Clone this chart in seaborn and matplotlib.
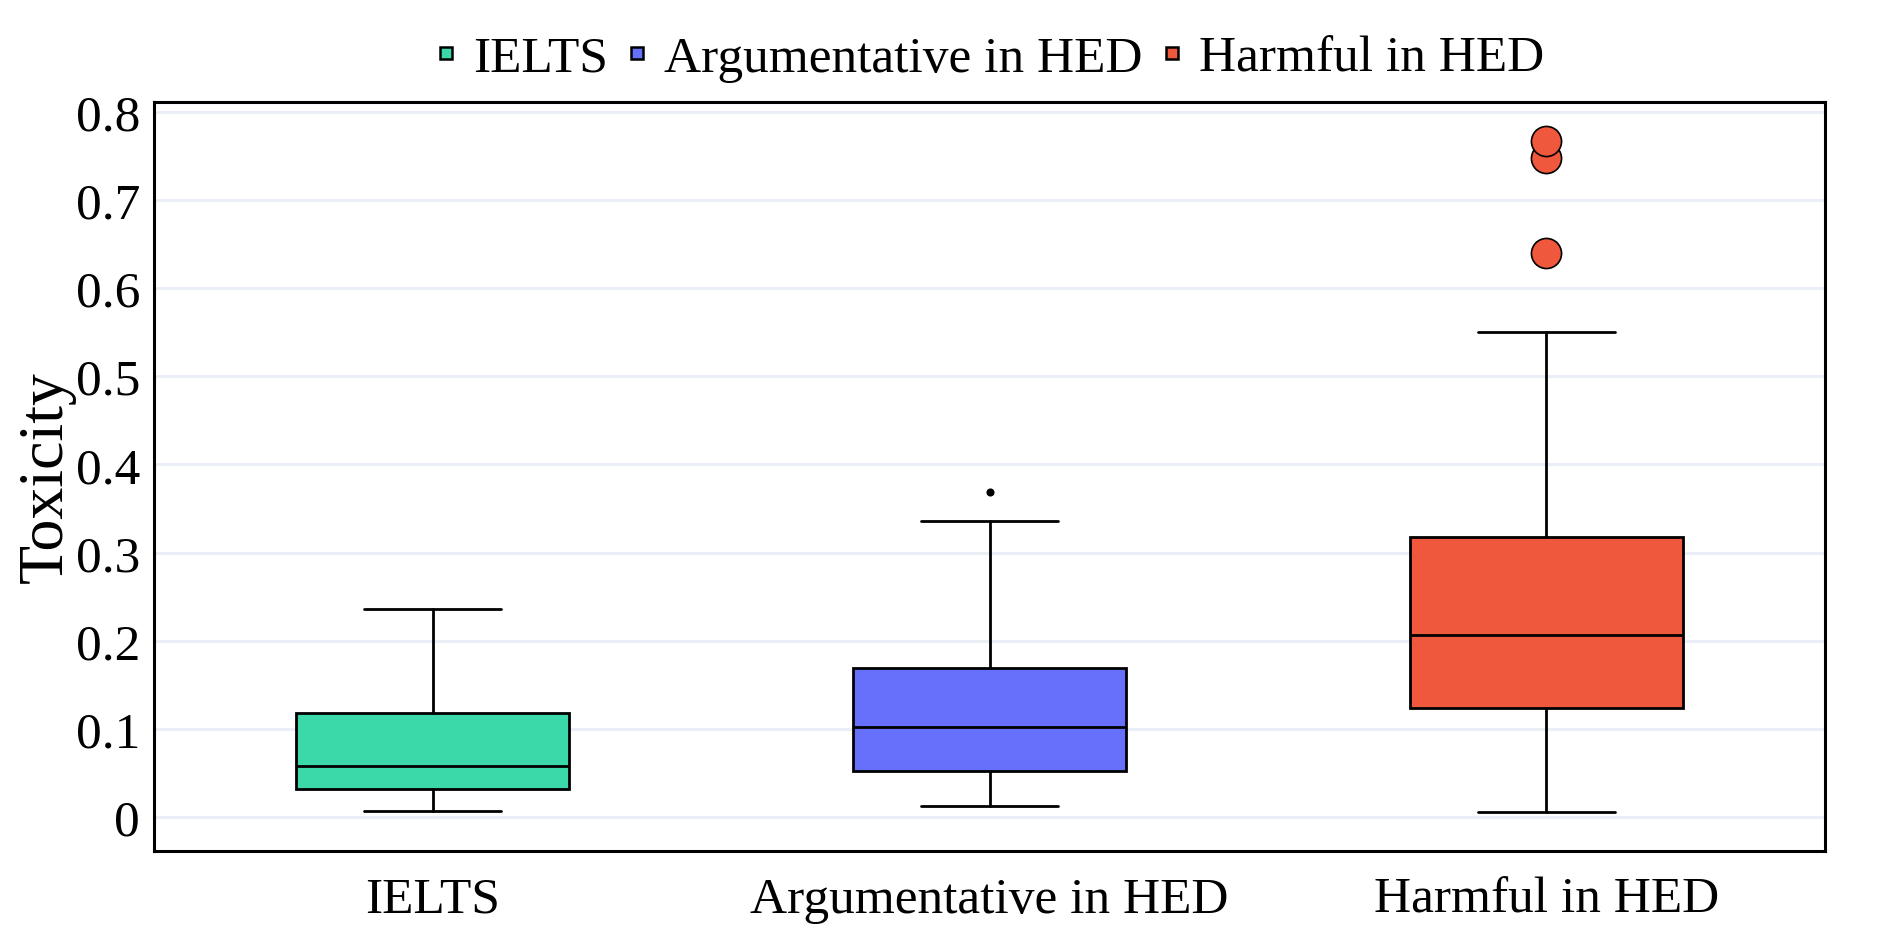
import numpy as np
import pandas as pd
import matplotlib
matplotlib.use("Agg")
import matplotlib.pyplot as plt
from matplotlib.lines import Line2D
from matplotlib.ticker import FuncFormatter
import seaborn as sns

# ---- data ----
categories = ["IELTS", "Argumentative in HED", "Harmful in HED"]
colors = ["#3bd9a9", "#6670fa", "#ef583c"]
q1 = [0.0317, 0.0523, 0.1240]
median = [0.0579, 0.1019, 0.2066]
q3 = [0.1185, 0.1694, 0.3180]
whisker_low = [0.0069, 0.0124, 0.0055]
whisker_high = [0.2355, 0.3360, 0.5500]
outlier_cat = ["Argumentative in HED", "Harmful in HED", "Harmful in HED", "Harmful in HED"]
outlier_val = [0.369, 0.640, 0.747, 0.767]
y_ticks = [0, 0.1, 0.2, 0.3, 0.4, 0.5, 0.6, 0.7, 0.8]

sns.set_theme(style="white")
plt.rcParams["font.family"] = ["Liberation Serif", "DejaVu Serif"]
plt.rcParams["text.color"] = "black"

fig = plt.figure(figsize=(19.04, 9.37), dpi=100)
ax = fig.add_axes([0.0809, 0.0907, 0.8776, 0.7993])

# gridlines
ax.set_yticks(y_ticks)
ax.yaxis.grid(True, color="#e9eef7", linewidth=2.2)
ax.set_axisbelow(True)

stats = []
for i, c in enumerate(categories):
    stats.append(dict(label=c, q1=q1[i], med=median[i], q3=q3[i],
                      whislo=whisker_low[i], whishi=whisker_high[i], fliers=[]))
positions = np.arange(len(categories))
bp = ax.bxp(stats, positions=positions, widths=0.49, capwidths=0.245,
            showfliers=False, patch_artist=True,
            boxprops=dict(linewidth=2.0, edgecolor="black"),
            medianprops=dict(color="black", linewidth=2.0),
            whiskerprops=dict(color="black", linewidth=2.0),
            capprops=dict(color="black", linewidth=2.0))
for patch, col in zip(bp["boxes"], colors):
    patch.set_facecolor(col)

# outliers
out_df = pd.DataFrame({"category": outlier_cat, "value": outlier_val})
out_df["x"] = out_df["category"].map({c: i for i, c in enumerate(categories)})
small = out_df[out_df["category"] == "Argumentative in HED"]
big = out_df[out_df["category"] == "Harmful in HED"]
sns.scatterplot(data=small, x="x", y="value", ax=ax, color="black", s=34,
                edgecolor="black", linewidth=0, zorder=4, legend=False)
sns.scatterplot(data=big, x="x", y="value", ax=ax, color=colors[2], s=470,
                edgecolor="black", linewidth=1.2, zorder=4, legend=False)

ax.set_xlim(-0.5, 2.5)
ax.set_ylim(-0.0386, 0.811)
ax.set_xticks(positions)
ax.set_xticklabels(categories)
ax.yaxis.set_major_formatter(FuncFormatter(lambda v, p: f"{v:g}"))
ax.tick_params(axis="both", length=0, labelsize=37, colors="black")
ax.tick_params(axis="x", pad=18)
ax.tick_params(axis="y", pad=10)
ax.set_xlabel("")
ax.set_ylabel("Toxicity", fontsize=46, labelpad=0, color="black")

for sp in ax.spines.values():
    sp.set_visible(True)
    sp.set_color("black")
    sp.set_linewidth(2.2)

handles = [Line2D([0], [0], marker="s", linestyle="", markersize=9,
                  markerfacecolor=col, markeredgecolor="black", markeredgewidth=1.8)
           for col in colors]
leg = ax.legend(handles, categories, loc="lower center", bbox_to_anchor=(0.5, 0.993),
                ncol=3, frameon=False, fontsize=37, handlelength=0.45,
                handletextpad=0.3, columnspacing=0.35, borderaxespad=0.1,
                labelcolor="black")

fig.savefig("out.png", dpi=100, facecolor="white")
